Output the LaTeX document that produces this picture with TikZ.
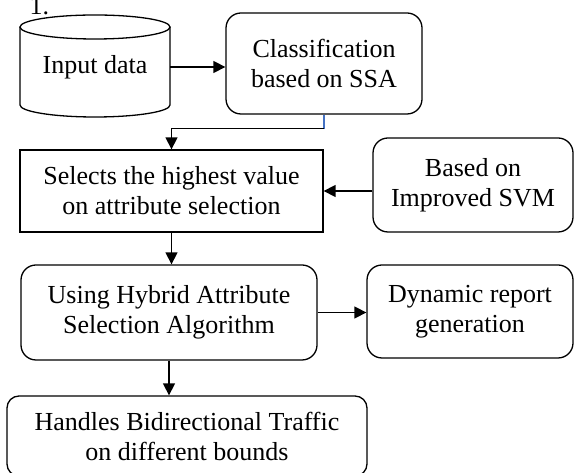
\documentclass[tikz,border=0pt]{standalone}
\usepackage{fontspec}
\setmainfont{Liberation Serif}
\usetikzlibrary{positioning,arrows.meta}
\tikzset{box/.style={draw,rectangle,line width=1.3pt,align=center,inner sep=2pt,font=\fontsize{26}{30}\selectfont},rbox/.style={box,rounded corners=15pt},arr/.style={-{Triangle[length=12pt,width=12pt]},line width=1.4pt}}

\begin{document}
\begin{tikzpicture}[x=1pt,y=1pt]
\useasboundingbox (0,0) rectangle (575,473);
\node[anchor=base west,font=\fontsize{26}{30}\selectfont] (num) at (26,458) {1.};
\node[minimum width=150pt,minimum height=102pt,inner sep=0pt,font=\fontsize{26}{30}\selectfont] (input) at (95,406) {Input data};
\draw[line width=1.3pt] (95,446) ellipse[x radius=75,y radius=12];
\draw[line width=1.3pt] (20,446) -- (20,368) arc[start angle=180,end angle=360,x radius=75,y radius=12] -- (170,446);
\node[rbox,minimum width=196pt,minimum height=101pt] (class) at (324,409.5) {Classification\\based on SSA};
\draw[arr] (input.east) -- (input.east -| class.west);
\node[box,minimum width=303pt,minimum height=82pt] (sel) at (171.5,282) {Selects the highest value\\on attribute selection};
\draw[line width=1.4pt,color={rgb,255:red,68;green,114;blue,196}] (class.south) -- ++(0,-14) coordinate (bend);
\draw[arr] (bend) -| (sel.north);
\node[rbox,minimum width=200pt,minimum height=94pt] (svm) at (473,288) {Based on\\Improved SVM};
\draw[arr] (svm.west |- sel.east) -- (sel.east);
\node[rbox,minimum width=296pt,minimum height=95pt] (hybrid) at (169,160.5) {Using Hybrid Attribute\\Selection Algorithm};
\draw[arr] (sel.south) -- (sel.south |- hybrid.north);
\node[rbox,minimum width=206pt,minimum height=93pt] (report) at (470,161.5) {Dynamic report\\generation};
\draw[arr] (hybrid.east) -- (hybrid.east -| report.west);
\node[rbox,rounded corners=12pt,minimum width=360pt,minimum height=80pt] (traffic) at (187,37) {Handles Bidirectional Traffic\\on different bounds};
\draw[arr] (hybrid.south) -- (hybrid.south |- traffic.north);
\end{tikzpicture}
\end{document}
